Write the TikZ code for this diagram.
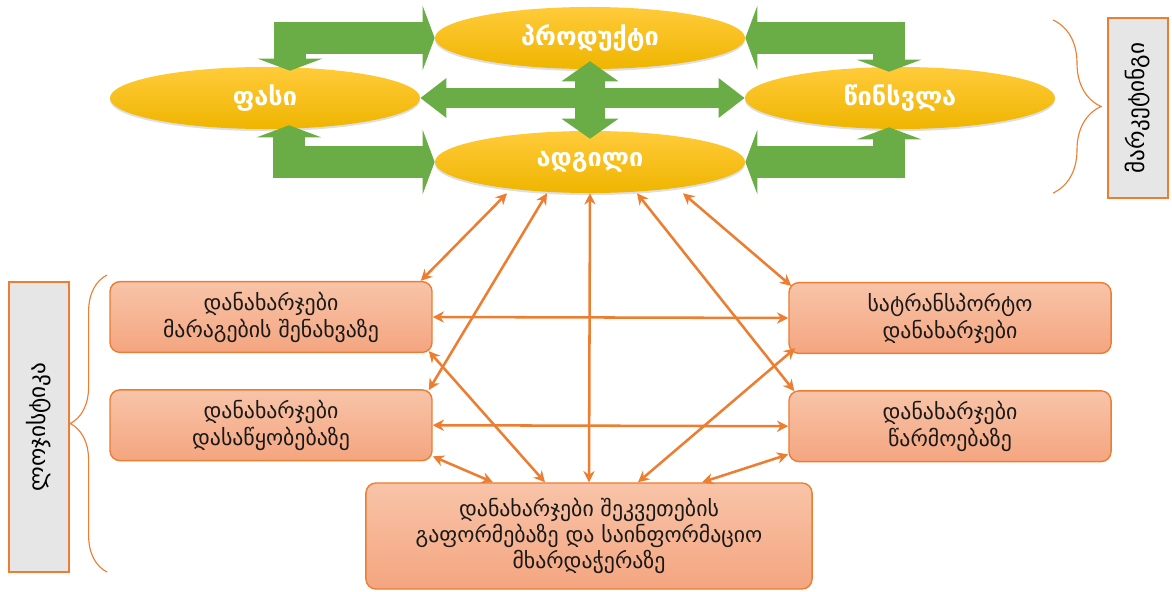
\documentclass[tikz,border=0pt]{standalone}
\usepackage{fontspec}
\setmainfont{DejaVu Sans}
\usetikzlibrary{calc,positioning,shapes.geometric,arrows.meta,decorations.pathreplacing,shadows}

\definecolor{goldtop}{HTML}{FFCB3A}
\definecolor{goldbot}{HTML}{EFB500}
\definecolor{orng}{HTML}{ED7D31}
\definecolor{salmtop}{HTML}{F8C4A8}
\definecolor{salmbot}{HTML}{F4A580}
\definecolor{grn}{HTML}{6AAC45}
\definecolor{greybox}{HTML}{E6E6E6}

\begin{document}
\begin{tikzpicture}[x=0.025cm,y=-0.025cm,
  oval/.style={ellipse, inner sep=0pt, minimum width=7.75cm, minimum height=1.55cm, top color=goldtop, bottom color=goldbot, drop shadow={opacity=0.25, shadow xshift=0pt, shadow yshift=-1.5pt}, text=white, font=\fontsize{18}{20}\selectfont\bfseries},
  cost/.style={rectangle, rounded corners=0.25cm, draw=orng, line width=1pt, top color=salmtop, bottom color=salmbot, align=center, text=black!90, font=\fontsize{15.5}{19.2}\selectfont, minimum width=8.05cm, minimum height=1.77cm},
  side/.style={rectangle, draw=orng, line width=1.5pt, fill=greybox, rotate=90, minimum height=1.5cm, font=\fontsize{16.5}{18}\selectfont},
  link/.style={draw=orng, line width=1.8pt, >={Stealth[length=8pt,width=8pt]}, <->},
  garrow/.style={draw=grn, line width=0.8cm, line join=miter, >={Triangle[length=0.3cm,width=1.6cm]}, <->},
  brc/.style={draw=orng, line width=0.8pt, decorate}]
  \useasboundingbox (0,0) rectangle (1172,592);

  % marketing mix
  \node[oval] (produkti) at (590,38) {პროდუქტი};
  \node[oval] (fasi) at (265,98) {ფასი};
  \node[oval] (winsvla) at (900,98) {წინსვლა};
  \node[oval] (adgili) at (590,162) {ადგილი};

  \draw[garrow] ($(fasi.north)+(25,4)$) |- (produkti.west);
  \draw[garrow] ($(fasi.south)+(24,-4)$) |- (adgili.west);
  \draw[garrow] (produkti.east) -| ($(winsvla.north)+(-11,5)$);
  \draw[garrow] (adgili.east) -| ($(winsvla.south)+(-11,-2)$);
  \draw[garrow, line width=0.5cm, >={Triangle[length=0.65cm,width=0.95cm]}] (fasi.east) -- (winsvla.west);
  \draw[garrow, line width=0.75cm, >={Triangle[length=0.5cm,width=1.4cm]}] ($(produkti.south)+(0,-8)$) -- ($(adgili.north)+(0,8)$);

  % logistics costs
  \node[cost] (maragi) at (271,317) {დანახარჯები\\მარაგების შენახვაზე};
  \node[cost, below=0.9cm of maragi] (dasawyobeba) {დანახარჯები\\დასაწყობებაზე};
  \node[cost] (transporti) at (950,318) {სატრანსპორტო\\დანახარჯები};
  \node[cost, below=0.9cm of transporti] (warmoeba) {დანახარჯები\\წარმოებაზე};
  \node[cost, minimum width=11.15cm, minimum height=2.65cm, font=\fontsize{15.5}{18.5}\selectfont] (shekveta) at (589,536) {დანახარჯები შეკვეთების\\გაფორმებაზე და საინფორმაციო\\მხარდაჭერაზე};

  \draw[link] ($(adgili.south)+(-83,0)$) -- ($(maragi.north east)+(-12,0)$);
  \draw[link] ($(adgili.south)+(-43,0)$) -- ($(dasawyobeba.north east)+(-4,1)$);
  \draw[link] (adgili.south) -- (shekveta.north);
  \draw[link] ($(adgili.south)+(47,0)$) -- ($(warmoeba.north west)+(6,1)$);
  \draw[link] ($(adgili.south)+(93,0)$) -- ($(transporti.north west)+(3,4)$);
  \draw[link] (maragi.east) -- (transporti.west);
  \draw[link] (dasawyobeba.east) -- (warmoeba.west);
  \draw[link] ($(maragi.south east)+(-4,-2)$) -- ($(shekveta.north)+(-44,0)$);
  \draw[link] ($(dasawyobeba.south east)+(0,-5)$) -- ($(shekveta.north)+(-96,0)$);
  \draw[link] ($(transporti.south west)+(7,-6)$) -- ($(shekveta.north)+(49,0)$);
  \draw[link] ($(warmoeba.south west)+(0,-8)$) -- ($(shekveta.north)+(113,0)$);

  % side labels
  \node[side, minimum width=4.5cm] (marketingi) at (1138,108) {მარკეტინგი};
  \node[side, minimum width=7.25cm] (logistika) at (39,427) {ლოჯისტიკა};
  \draw[brc, decoration={brace, amplitude=1.2cm}] (1053,20) -- (1053,193);
  \draw[brc, decoration={brace, amplitude=0.92cm}] (107,572) -- (107,275);
\end{tikzpicture}
\end{document}
